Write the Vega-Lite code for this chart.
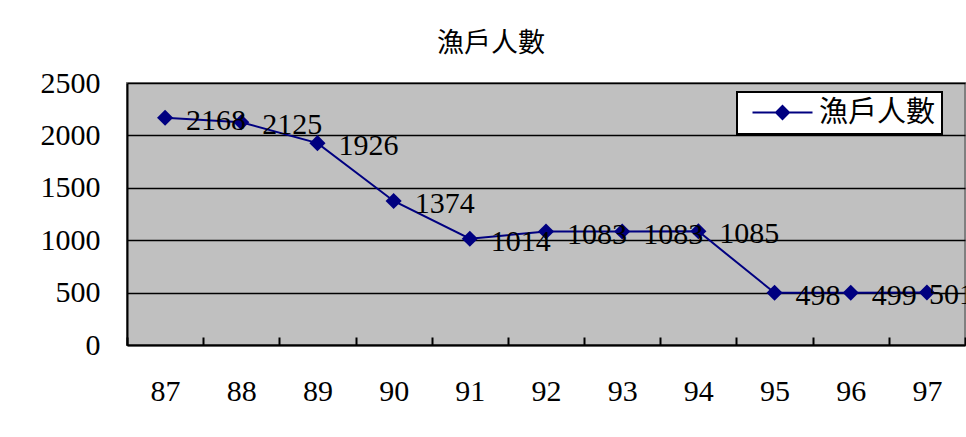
{
  "$schema": "https://vega.github.io/schema/vega-lite/v6.json",
  "autosize": {"type": "none"},
  "width": 838,
  "height": 262,
  "padding": {"left": 127, "top": 83, "right": 1, "bottom": 92},
  "background": "white",
  "title": {
    "text": "漁戶人數",
    "font": "Noto Sans CJK TC",
    "fontSize": 27,
    "fontWeight": "normal",
    "color": "black",
    "anchor": "middle",
    "dx": -55,
    "offset": 10
  },
  "data": {
    "values": [
      {"year": "87", "value": 2168, "series": "漁戶人數"},
      {"year": "88", "value": 2125, "series": "漁戶人數"},
      {"year": "89", "value": 1926, "series": "漁戶人數"},
      {"year": "90", "value": 1374, "series": "漁戶人數"},
      {"year": "91", "value": 1014, "series": "漁戶人數"},
      {"year": "92", "value": 1083, "series": "漁戶人數"},
      {"year": "93", "value": 1083, "series": "漁戶人數"},
      {"year": "94", "value": 1085, "series": "漁戶人數"},
      {"year": "95", "value": 498, "series": "漁戶人數"},
      {"year": "96", "value": 499, "series": "漁戶人數"},
      {"year": "97", "value": 501, "series": "漁戶人數"}
    ]
  },
  "encoding": {
    "x": {
      "field": "year",
      "type": "ordinal",
      "scale": {"paddingInner": 0, "paddingOuter": 0},
      "axis": {
        "title": null,
        "labelAngle": 0,
        "labelFont": "Liberation Serif",
        "labelFontSize": 30,
        "labelColor": "black",
        "labelPadding": 39,
        "tickBand": "extent",
        "tickSize": -8,
        "tickColor": "black",
        "tickWidth": 2,
        "domainColor": "black",
        "domainWidth": 2
      }
    },
    "y": {
      "field": "value",
      "type": "quantitative",
      "scale": {"domain": [0, 2500], "nice": false},
      "axis": {
        "title": null,
        "values": [0, 500, 1000, 1500, 2000, 2500],
        "format": "d",
        "labelFont": "Liberation Serif",
        "labelFontSize": 30,
        "labelColor": "black",
        "labelPadding": 27,
        "ticks": false,
        "grid": true,
        "gridColor": "black",
        "gridWidth": 1.5,
        "domainColor": "black",
        "domainWidth": 2
      }
    }
  },
  "layer": [
    {
      "mark": {"type": "line", "color": "#000080", "strokeWidth": 2},
      "encoding": {
        "color": {
          "field": "series",
          "type": "nominal",
          "scale": {"range": ["#000080"]},
          "legend": {
            "title": null,
            "orient": "none",
            "legendX": 610,
            "legendY": 9,
            "fillColor": "white",
            "strokeColor": "black",
            "padding": 6,
            "symbolType": "M-0.5,0L5.5,0M2.5,-0.65L3.15,0L2.5,0.65L1.85,0Z",
            "symbolSize": 400,
            "symbolStrokeWidth": 2,
            "symbolStrokeColor": "#000080",
            "symbolFillColor": "#000080",
            "labelFont": "Noto Sans CJK TC",
            "labelFontSize": 29,
            "labelColor": "black",
            "labelOffset": 47,
            "encode": {"legend": {"update": {"strokeWidth": {"value": 2}}}}
          }
        }
      }
    },
    {
      "mark": {"type": "point", "shape": "diamond", "filled": true, "color": "#000080", "size": 260, "opacity": 1}
    },
    {
      "transform": [{"filter": "datum.year != '97'"}],
      "mark": {
        "type": "text",
        "align": "left",
        "baseline": "middle",
        "dx": 21,
        "dy": 3,
        "font": "Liberation Serif",
        "fontSize": 30,
        "color": "black"
      },
      "encoding": {"text": {"field": "value", "type": "quantitative"}}
    },
    {
      "transform": [{"filter": "datum.year == '97'"}],
      "mark": {
        "type": "text",
        "align": "left",
        "baseline": "middle",
        "dx": 2,
        "dy": 3,
        "font": "Liberation Serif",
        "fontSize": 30,
        "color": "black"
      },
      "encoding": {"text": {"field": "value", "type": "quantitative"}}
    }
  ],
  "config": {
    "view": {"fill": "#C0C0C0", "stroke": "#808080", "strokeWidth": 2}
  }
}
